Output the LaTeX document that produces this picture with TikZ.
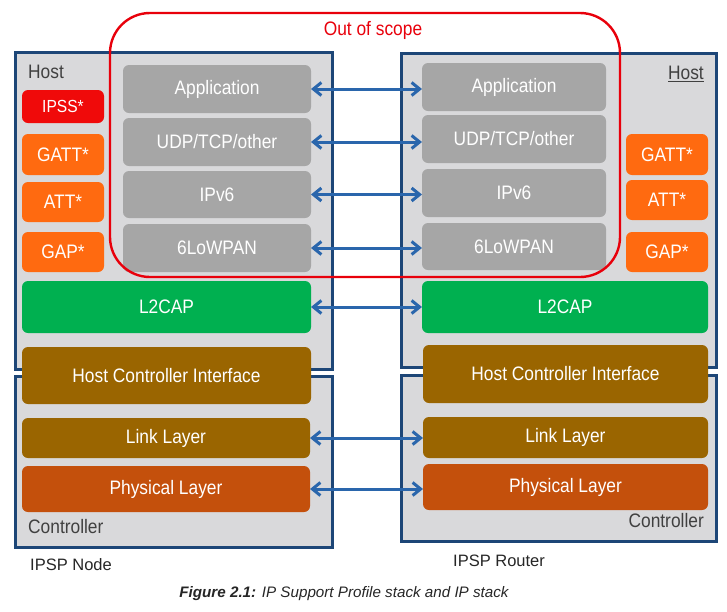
\documentclass[tikz,border=0pt]{standalone}
\usepackage{fontspec}
\setmainfont{Liberation Sans}
\newfontfamily\narrowfont{Liberation Sans}[FakeStretch=0.89]
\usetikzlibrary{arrows.meta}
\definecolor{hostbg}{HTML}{D9D9DB}
\definecolor{frameblue}{HTML}{1D4677}
\definecolor{grayblk}{HTML}{A6A6A6}
\definecolor{ipssred}{HTML}{F00A0A}
\definecolor{orangeblk}{HTML}{FF6A10}
\definecolor{greenblk}{HTML}{00B050}
\definecolor{brownblk}{HTML}{9A6500}
\definecolor{physblk}{HTML}{C4500C}
\definecolor{arrowblue}{HTML}{2A66AC}
\definecolor{labelgray}{HTML}{404040}
\definecolor{scopered}{HTML}{E8000B}
\newcommand\blk[7]{\node[#6, minimum width={(#4)-(#2)}, minimum height={(#5)-(#3)}] (#1) at ({((#2)+(#4))/2},{((#3)+(#5))/2}) {#7};}
\begin{document}
\begin{tikzpicture}[x=1pt,y=-1pt,
  layerbox/.style={draw=none, inner sep=0pt, outer sep=0pt, rounded corners=6pt, text=white,
    font=\narrowfont\fontsize{19.5}{22}\selectfont},
  graybox/.style={layerbox, fill=grayblk},
  orangebox/.style={layerbox, fill=orangeblk},
  redbox/.style={layerbox, fill=ipssred, font=\narrowfont\fontsize{17.5}{20}\selectfont},
  greenbox/.style={layerbox, fill=greenblk},
  brownbox/.style={layerbox, fill=brownblk},
  physbox/.style={layerbox, fill=physblk},
  frame/.style={draw=frameblue, fill=hostbg, line width=3pt, inner sep=0pt, outer sep=0pt},
  framelabel/.style={text=labelgray, inner sep=0pt, font=\narrowfont\fontsize{19.5}{22}\selectfont},
  barb/.tip={Straight Barb[length=8pt,width=13pt]},
  peer/.style={draw=arrowblue, line width=3pt, barb-barb},
  caption/.style={text=black!85, inner sep=0pt, font=\fontsize{16.5}{19}\selectfont}
]
\useasboundingbox (0,0) rectangle (727,611);
% frames
\blk{hostL}{15}{52}{332}{369}{frame}{}
\blk{ctrlL}{15}{376}{332}{547}{frame}{}
\blk{hostR}{401}{53}{716}{367}{frame}{}
\blk{ctrlR}{401}{375}{716}{541}{frame}{}
\node[framelabel, anchor=west] (hostLlbl) at (28,72) {Host};
\node[framelabel, anchor=east] (hostRlbl) at (704,74) {\underline{Host}};
\node[framelabel, anchor=west] (ctrlLlbl) at (28,527) {Controller};
\node[framelabel, anchor=east] (ctrlRlbl) at (704,521) {Controller};
% left stack
\blk{appL}{123}{65}{311}{113}{graybox}{Application}
\blk{udpL}{123}{118}{311}{166}{graybox}{UDP/TCP/other}
\blk{ipL}{123}{171}{311}{218}{graybox}{IPv6}
\blk{lowL}{123}{224}{311}{272}{graybox}{6LoWPAN}
\blk{ipssL}{22}{90}{104}{123}{redbox}{IPSS*}
\blk{gattL}{22}{134}{104}{175}{orangebox}{GATT*}
\blk{attL}{22}{182}{104}{222}{orangebox}{ATT*}
\blk{gapL}{22}{232}{104}{272}{orangebox}{GAP*}
\blk{l2L}{22}{281}{311}{333}{greenbox}{L2CAP}
\blk{hciL}{22}{347}{311}{404}{brownbox}{Host Controller Interface}
\blk{llL}{22}{418}{310}{458}{brownbox}{Link Layer}
\blk{phyL}{22}{466}{310}{512}{physbox}{Physical Layer}
% right stack
\blk{appR}{422}{63}{606}{111}{graybox}{Application}
\blk{udpR}{422}{115}{606}{163}{graybox}{UDP/TCP/other}
\blk{ipR}{422}{169}{606}{217}{graybox}{IPv6}
\blk{lowR}{422}{223}{606}{270}{graybox}{6LoWPAN}
\blk{gattR}{626}{134}{708}{175}{orangebox}{GATT*}
\blk{attR}{626}{180}{708}{220}{orangebox}{ATT*}
\blk{gapR}{626}{232}{708}{272}{orangebox}{GAP*}
\blk{l2R}{422}{281}{708}{333}{greenbox}{L2CAP}
\blk{hciR}{423}{345}{708}{403}{brownbox}{Host Controller Interface}
\blk{llR}{423}{417}{708}{458}{brownbox}{Link Layer}
\blk{phyR}{423}{464}{708}{510}{physbox}{Physical Layer}
% peer arrows
\draw[peer] (appL.east) -- (appL.east -| appR.west);
\draw[peer] (udpL.east) -- (udpL.east -| udpR.west);
\draw[peer] (ipL.east) -- (ipL.east -| ipR.west);
\draw[peer] (lowL.east) -- (lowL.east -| lowR.west);
\draw[peer] (l2L.east) -- (l2R.west);
\draw[peer] (llL.east) -- (llL.east -| llR.west);
\draw[peer] (phyL.east) -- (phyL.east -| phyR.west);
% out of scope
\draw[draw=scopered, line width=2.4pt, rounded corners=40pt] (110,13) rectangle (620,277);
\node[text=scopered, inner sep=0pt, font=\narrowfont\fontsize{19.5}{22}\selectfont] (scope) at (373,30) {Out of scope};
% labels
\node[caption, anchor=west] (nodelbl) at (30,565) {IPSP Node};
\node[caption, anchor=west] (routerlbl) at (453,561) {IPSP Router};
\node[text=black!85, inner sep=0pt, font=\fontsize{15.2}{18}\selectfont\itshape] (cap) at (344,594) {\textbf{Figure 2.1:} IP Support Profile stack and IP stack};
\end{tikzpicture}
\end{document}
